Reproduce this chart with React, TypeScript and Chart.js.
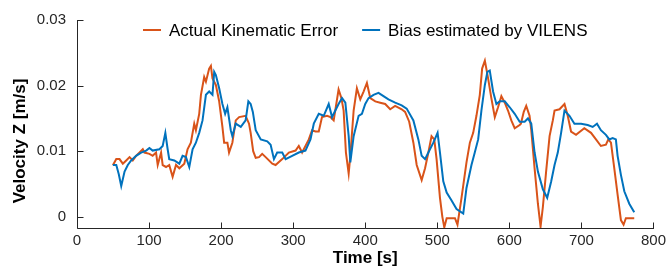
import { useEffect, useRef } from "react";
import { Chart, registerables } from "chart.js";

Chart.register(...registerables);

const seriesNames = ["Actual Kinematic Error", "Bias estimated by VILENS"];
const xTicks = [0, 100, 200, 300, 400, 500, 600, 700, 800];
const yTicks = [0, 0.01, 0.02, 0.03];
const xTitle = "Time [s]";
const yTitle = "Velocity Z [m/s]";

const actualT = [
  49.8, 54.5, 59, 63.6, 68.3, 72.9, 77.4, 82, 91.3, 93.6, 100.5, 105, 109.7, 112, 116.7, 118.9, 123.6, 128,
  132.7, 137.4, 142, 148.9, 153.4, 158, 162.7, 165, 169.6, 172, 176.5, 178.9, 183.4, 185.8, 188, 192.7, 197.3,
  201.8, 204.2, 208.7, 211, 215.6, 220.3, 225, 234, 238.7, 241, 244.5, 248, 252.6, 257, 261.8, 271, 275.6,
  284.8, 294, 303.3, 307.8, 312.4, 321.7, 326.2, 331, 335.5, 340, 347, 351.7, 356.2, 363, 366.9, 370, 373.2,
  377, 379.3, 383.9, 388.4, 393.1, 397.7, 402.3, 407, 413.9, 420.8, 427.7, 434.6, 441.5, 450.6, 455.3, 461,
  466.8, 471.4, 478.3, 483, 487.6, 492, 495.8, 499, 503.7, 507, 509.7, 513, 524.5, 528, 533.6, 540.5, 545.2,
  549.8, 554.3, 559, 562.2, 566, 570.5, 575, 579.8, 584.3, 588.9, 593.6, 598.1, 602.7, 607.4, 614.3, 616,
  620, 623.4, 628, 630.4, 635, 639.6, 643.3, 646.5, 651, 655.8, 660.3, 662.7, 669.6, 676.5, 681, 685.6,
  692.5, 704, 713.3, 720.2, 727, 734, 737.3, 741, 745.6, 750.2, 754.8, 758.5, 761.7, 773.3,
];
const actualV = [
  0.00785, 0.0088, 0.0088, 0.0081, 0.0086, 0.0091, 0.0086, 0.0093, 0.0103, 0.0098, 0.0096, 0.0093, 0.0098,
  0.0079, 0.0098, 0.0079, 0.0076, 0.0079, 0.0061, 0.0079, 0.0074, 0.0081, 0.0103, 0.0113, 0.0142, 0.0132,
  0.0157, 0.0186, 0.0213, 0.0206, 0.0226, 0.023, 0.0211, 0.0201, 0.0176, 0.0137, 0.0113, 0.0113, 0.0098,
  0.0113, 0.0147, 0.0152, 0.0154, 0.0142, 0.0128, 0.01, 0.009, 0.0091, 0.0096, 0.0091, 0.0081, 0.0079, 0.0088,
  0.0098, 0.0101, 0.0108, 0.0098, 0.0118, 0.0132, 0.013, 0.013, 0.0152, 0.0154, 0.0152, 0.0147, 0.0194,
  0.0181, 0.0162, 0.0098, 0.0066, 0.0093, 0.0162, 0.0196, 0.0179, 0.0191, 0.0204, 0.0181, 0.0176, 0.0174,
  0.0172, 0.0164, 0.0169, 0.0164, 0.016, 0.0145, 0.0113, 0.0079, 0.0056, 0.0074, 0.0098, 0.0123, 0.0118,
  0.0088, 0.0029, 0.0, -0.0016, -0.0002, -0.0002, -0.0012, 0.0029, 0.0083, 0.0113, 0.0128, 0.0154, 0.0186,
  0.0226, 0.0238, 0.0211, 0.0181, 0.0152, 0.0167, 0.0184, 0.0174, 0.0162, 0.0147, 0.0135, 0.014, 0.0142,
  0.016, 0.0169, 0.0154, 0.0132, 0.0074, 0.002, -0.0015, 0.0015, 0.0069, 0.0123, 0.0147, 0.0162, 0.0164,
  0.0172, 0.0154, 0.013, 0.0125, 0.0135, 0.0128, 0.0118, 0.0108, 0.011, 0.0118, 0.0113, 0.0074, 0.0034,
  -0.0005, -0.0012, -0.0002, -0.0002,
];

const biasT = [
  49.8, 54.5, 58, 61.4, 66, 70.5, 75.2, 82, 89, 96, 100.5, 105, 114.3, 118.9, 122.6, 125.8, 128, 135, 142,
  146.5, 151.2, 155.8, 160.4, 165, 169.6, 174.2, 178.9, 183.4, 188, 190.4, 192.7, 197.3, 201.8, 205.6, 208.7,
  213.4, 215.6, 220.3, 227.3, 234, 237.8, 241, 244, 248, 255, 264, 268.7, 273.3, 277.8, 284.8, 289.5, 298.6,
  307.8, 317, 324, 328.6, 335.5, 342.4, 349.3, 353.9, 358.5, 363, 367.8, 372.4, 377, 379.3, 383.9, 390.8,
  395.4, 400, 404.6, 411.5, 418.4, 425.3, 432.2, 441.5, 450.6, 457.5, 466.8, 473.7, 478.3, 483, 487.6, 494.5,
  500.4, 503.7, 508.3, 513, 519.8, 526.7, 536, 540.5, 547.4, 552, 556.7, 561.2, 566, 569.5, 572.8, 577.4,
  582, 586.6, 593.6, 600.5, 607.4, 614.3, 621.2, 625.8, 630.4, 635, 639.6, 646.5, 652.5, 658, 662.7, 667.2,
  671.8, 676.5, 683.4, 690.3, 699.5, 708.7, 715.6, 721.6, 727, 734, 738.7, 743.3, 747.8, 750.2, 754.8, 759.5,
  766.4, 773.3,
];
const biasV = [
  0.0079, 0.0079, 0.0065, 0.0047, 0.0069, 0.0079, 0.0086, 0.0093, 0.0098, 0.0101, 0.0105, 0.0101, 0.0103,
  0.0108, 0.0128, 0.0103, 0.0088, 0.0086, 0.0081, 0.0093, 0.0091, 0.0076, 0.0103, 0.0113, 0.0128, 0.0147,
  0.0186, 0.0191, 0.0186, 0.0221, 0.0216, 0.0196, 0.0172, 0.0157, 0.0167, 0.0132, 0.0123, 0.0142, 0.0137,
  0.0147, 0.0176, 0.0172, 0.016, 0.0132, 0.0118, 0.0115, 0.011, 0.0088, 0.0098, 0.0098, 0.0088, 0.0093,
  0.0098, 0.0101, 0.0118, 0.0142, 0.0157, 0.0154, 0.0172, 0.0152, 0.0162, 0.0172, 0.0181, 0.0174, 0.0123,
  0.0083, 0.0123, 0.0154, 0.0157, 0.0172, 0.0181, 0.0186, 0.0189, 0.0184, 0.0179, 0.0174, 0.017, 0.0165,
  0.0147, 0.0118, 0.0093, 0.0088, 0.0098, 0.0113, 0.0128, 0.0098, 0.0054, 0.0037, 0.0025, 0.0012, 0.0005,
  0.0044, 0.0079, 0.0098, 0.0118, 0.0162, 0.0201, 0.0221, 0.0223, 0.0191, 0.0172, 0.0176, 0.0176, 0.0167,
  0.0157, 0.0145, 0.0145, 0.015, 0.0142, 0.0098, 0.0069, 0.0042, 0.0029, 0.0054, 0.0079, 0.0098, 0.0128,
  0.0162, 0.0154, 0.0142, 0.0142, 0.014, 0.0137, 0.0142, 0.0132, 0.0125, 0.0118, 0.012, 0.0118, 0.0093,
  0.0064, 0.0039, 0.002, 0.0007,
];

const ORANGE = "#D95319";
const BLUE = "#0072BD";
const AXIS = "#262626";
const FONT = "'Liberation Sans', Arial, sans-serif";

export default function App() {
  const ref = useRef<HTMLCanvasElement>(null);

  useEffect(() => {
    if (!ref.current) return;

    const decor = {
      id: "decor",
      afterDraw(chart: any) {
        const { ctx, chartArea: ca, scales } = chart;
        const xs = scales.x;
        const ys = scales.y;
        ctx.save();
        ctx.strokeStyle = AXIS;
        ctx.lineWidth = 1;
        ctx.beginPath();
        const lx = Math.round(ca.left) + 0.5;
        const by = Math.round(ca.bottom) + 0.5;
        ctx.moveTo(lx, Math.round(ca.top));
        ctx.lineTo(lx, by);
        ctx.lineTo(Math.round(ca.right) + 1, by);
        for (const v of yTicks) {
          const py = Math.round(ys.getPixelForValue(v)) + 0.5;
          ctx.moveTo(lx, py);
          ctx.lineTo(lx + 6, py);
        }
        for (const v of xTicks) {
          const px = Math.round(xs.getPixelForValue(v)) + 0.5;
          ctx.moveTo(px, by);
          ctx.lineTo(px, by - 6);
        }
        ctx.stroke();

        // axis titles
        ctx.fillStyle = "#000";
        ctx.font = `bold 17px ${FONT}`;
        ctx.textAlign = "center";
        ctx.textBaseline = "middle";
        ctx.fillText(xTitle, (ca.left + ca.right) / 2, 258);
        ctx.save();
        ctx.translate(20, 141);
        ctx.rotate(-Math.PI / 2);
        ctx.fillText(yTitle, 0, 0);
        ctx.restore();

        // legend
        ctx.font = `17px ${FONT}`;
        ctx.textAlign = "left";
        const sample = 18;
        const gap = 8;
        const itemGap = 24;
        const colors = [ORANGE, BLUE];
        const widths = seriesNames.map((n) => ctx.measureText(n).width);
        const total = widths.reduce((a, w) => a + w + sample + gap, 0) + itemGap;
        let x = (ca.left + ca.right) / 2 - total / 2;
        const ly = 30;
        seriesNames.forEach((name, i) => {
          ctx.strokeStyle = colors[i];
          ctx.lineWidth = 2;
          ctx.beginPath();
          ctx.moveTo(x, ly);
          ctx.lineTo(x + sample, ly);
          ctx.stroke();
          ctx.fillStyle = "#000";
          ctx.fillText(name, x + sample + gap, ly + 1);
          x += sample + gap + widths[i] + itemGap;
        });
        ctx.restore();
      },
    };

    const chart = new Chart(ref.current, {
      type: "line",
      data: {
        datasets: [
          {
            label: seriesNames[1],
            data: biasT.map((t, i) => ({ x: t, y: biasV[i] })),
            borderColor: BLUE,
            backgroundColor: BLUE,
            borderWidth: 2,
            pointRadius: 0,
            tension: 0,
            order: 0,
          },
          {
            label: seriesNames[0],
            data: actualT.map((t, i) => ({ x: t, y: actualV[i] })),
            borderColor: ORANGE,
            backgroundColor: ORANGE,
            borderWidth: 2,
            pointRadius: 0,
            tension: 0,
            order: 1,
          },
        ],
      },
      options: {
        responsive: false,
        animation: false,
        devicePixelRatio: 1,
        layout: { padding: { top: 13, right: 14, left: 0, bottom: 0 } },
        plugins: {
          legend: { display: false },
          tooltip: { enabled: false },
        },
        scales: {
          x: {
            type: "linear",
            min: 0,
            max: 800,
            afterBuildTicks: (s: any) => {
              s.ticks = xTicks.map((v) => ({ value: v }));
            },
            afterFit: (s: any) => {
              s.height = 40;
            },
            grid: { display: false, drawTicks: false },
            border: { display: false },
            ticks: {
              autoSkip: false,
              maxRotation: 0,
              padding: 4,
              color: AXIS,
              font: { family: FONT, size: 15 },
            },
          },
          y: {
            type: "linear",
            min: -0.0017,
            max: 0.03,
            afterBuildTicks: (s: any) => {
              s.ticks = yTicks.map((v) => ({ value: v }));
            },
            afterFit: (s: any) => {
              s.width = 77;
            },
            grid: { display: false, drawTicks: false },
            border: { display: false },
            ticks: {
              padding: 11,
              color: AXIS,
              font: { family: FONT, size: 15 },
              callback: (v: any) => (Number(v) === 0 ? "0" : Number(v).toFixed(2)),
            },
          },
        },
      },
      plugins: [decor],
    });

    return () => chart.destroy();
  }, []);

  return (
    <div style={{ position: "absolute", left: 0, top: 0, width: 670, height: 268, background: "#fff" }}>
      <canvas ref={ref} width={670} height={268} style={{ display: "block" }} />
    </div>
  );
}
